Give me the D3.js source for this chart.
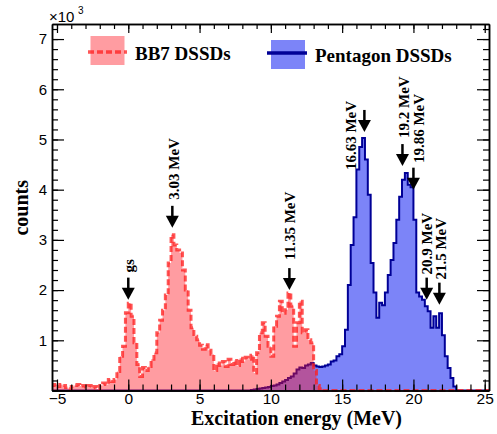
<!DOCTYPE html>
<html><head><meta charset="utf-8">
<script src="https://cdn.jsdelivr.net/npm/d3@7"></script>
<style>
body{margin:0;background:#fff;}
svg{display:block;}
.tick text{font-family:"Liberation Sans",Arial,sans-serif;}
</style></head>
<body><svg id="c" width="497" height="434"></svg>
<script>
// ---- data (counts in thousands, 0.2 MeV bins starting at -5.4 MeV) ----
const binStart = -5.4;
const binWidth = 0.2;
const bb7Counts = [
  0.10,0.12,0.08,0.12,0.10, 0.06,0.04,0.08,0.10,0.12, 0.09,0.10,0.07,0.10,0.05,
  0.08,0.03,0.10,0.15,0.12, 0.22,0.18,0.22,0.38,0.68, 0.88,1.55,1.74,1.48,0.95,
  0.52,0.28,0.46,0.40,0.48, 0.62,0.75,1.15,1.40,1.60, 1.90,2.54,3.10,2.90,2.80,
  2.74,2.40,2.00,1.60,1.25, 1.08,1.01,0.90,0.82,0.91, 0.80,0.72,0.40,0.55,0.50,
  0.58,0.48,0.62,0.52,0.60, 0.50,0.64,0.58,0.66,0.62, 0.70,0.35,0.75,1.15,1.35,
  1.08,0.88,0.68,1.28,1.48, 1.78,1.54,1.61,1.94,1.68, 0.88,1.35,1.78,1.15,1.21,
  1.01,0.95,0.40,0.10,0.04,
  0,0,0,0,0, 0,0,0,0,0, 0,0,0,0,0, 0,0,0,0,0, 0,0,0,0,0, 0,0,0,0,0,
  0,0,0,0,0, 0,0,0,0,0, 0,0,0,0,0, 0,0,0,0,0, 0,0,0,0,0, 0,0,0,0
];
const pentCounts = [
  0,0,0,0,0, 0,0,0,0,0, 0,0,0,0,0, 0,0,0,0,0, 0,0,0,0,0, 0,0,0,0,0, 0,0,0,0,0,
  0,0,0,0,0, 0,0,0,0,0, 0,0,0,0,0, 0,0,0,0,0, 0,0,0,0,0, 0,0,0,0,0, 0,0,0,0,0,
  0.01,0.02,0.03,0.04,0.05, 0.06,0.07,0.09,0.10,0.12, 0.15,0.18,0.21,0.25,0.28,
  0.34,0.42,0.46,0.45,0.50, 0.52,0.55,0.50,0.48,0.47, 0.48,0.50,0.52,0.58,0.60,
  0.68,0.72,0.88,1.21,2.10, 2.90,3.45,4.40,4.85,5.03, 4.60,3.90,2.54,1.95,1.45,
  1.75,1.70,1.95,2.30,2.60, 2.94,3.40,3.86,4.20,4.33, 4.10,4.05,3.40,1.95,1.87,
  1.81,1.68,1.58,1.25,1.48, 1.25,1.54,1.10,0.68,0.45, 0.25,0.08,0,0,0,
  0,0,0,0,0, 0,0,0,0
];
const seriesNames = ["BB7 DSSDs", "Pentagon DSSDs"];
const xTickLabels = [-5, 0, 5, 10, 15, 20, 25];
const yTickLabels = [1, 2, 3, 4, 5, 6, 7];
// peak markers: arrow energy (MeV), arrow tip (k counts), label, label anchor energy, label bottom (k counts)
const peakE     = [0, 3.09, 11.3, 16.56, 19.23, 20.0, 20.93, 21.82];
const peakTip   = [1.81, 3.24, 2.0, 5.15, 4.47, 4.0, 1.81, 1.71];
const peakLabel = ["gs", "3.03 MeV", "11.35 MeV", "16.63 MeV", "19.2 MeV", "19.86 MeV", "20.9 MeV", "21.5 MeV"];
const labelE    = [0, 3.2, 11.35, 15.6, 19.3, 20.4, 20.9, 21.9];
const labelBot  = [2.35, 3.8, 2.6, 4.39, 5.03, 4.53, 2.31, 2.21];

// ---- layout ----
const L = 52, R = 489, T = 24, B = 390.5;
const svg = d3.select("#c");
const x = d3.scaleLinear().domain([-5.35, 25.3]).range([L, R]);
const y = d3.scaleLinear().domain([0, 7.3]).range([B, T]);

const colors = {
  bb7Fill: "rgba(255,20,30,0.42)", bb7Line: "rgba(255,30,30,0.75)",
  pentFill: "rgb(124,132,248)", pentLine: "#000096"
};

svg.append("defs").append("clipPath").attr("id","clip")
  .append("rect").attr("x",L).attr("y",T).attr("width",R-L).attr("height",B-T+2);

function stepPts(arr){
  const pts=[];
  arr.forEach((v,i)=>{ const e0=binStart+i*binWidth; pts.push([e0,v],[e0+binWidth,v]); });
  return pts;
}
const area = d3.area().x(d=>x(d[0])).y0(y(0)).y1(d=>y(d[1]));
const line = d3.line().x(d=>x(d[0])).y(d=>y(d[1]));
const g = svg.append("g").attr("clip-path","url(#clip)");
const pp = stepPts(pentCounts), bp = stepPts(bb7Counts);
g.append("path").attr("d",area(pp)).attr("fill",colors.pentFill);
g.append("path").attr("d",line(pp)).attr("fill","none").attr("stroke",colors.pentLine).attr("stroke-width",2);
g.append("path").attr("d",area(bp)).attr("fill",colors.bb7Fill);
g.append("path").attr("d",line(bp)).attr("fill","none").attr("stroke",colors.bb7Line)
  .attr("stroke-width",3).attr("stroke-dasharray","6,3");

// ---- axes ----
const axStyle = sel => { sel.select(".domain").attr("stroke","#000").attr("stroke-width",1.5);
  sel.selectAll(".tick line").attr("stroke","#000").attr("stroke-width",1.2); };
const xMinor = d3.range(-5, 26, 1), yMinor = d3.range(0, 7.3, 0.2);
svg.append("g").attr("transform",`translate(0,${B})`)
  .call(d3.axisBottom(x).tickValues(xMinor).tickSize(-6).tickSizeOuter(0).tickFormat("")).call(axStyle);
svg.append("g").attr("transform",`translate(0,${B})`)
  .call(d3.axisBottom(x).tickValues(xTickLabels).tickSize(-11).tickSizeOuter(0).tickPadding(2)).call(axStyle)
  .selectAll("text").attr("font-size",15.5).attr("fill","#000");
svg.append("g").attr("transform",`translate(0,${T})`)
  .call(d3.axisTop(x).tickValues(xMinor).tickSize(-5).tickSizeOuter(0).tickFormat("")).call(axStyle);
svg.append("g").attr("transform",`translate(0,${T})`)
  .call(d3.axisTop(x).tickValues(xTickLabels).tickSize(-9).tickSizeOuter(0).tickFormat("")).call(axStyle);
svg.append("g").attr("transform",`translate(${L},0)`)
  .call(d3.axisLeft(y).tickValues(yMinor).tickSize(-6).tickSizeOuter(0).tickFormat("")).call(axStyle);
svg.append("g").attr("transform",`translate(${L},0)`)
  .call(d3.axisLeft(y).tickValues(yTickLabels).tickSize(-12).tickSizeOuter(0).tickPadding(5).tickFormat(d3.format("d"))).call(axStyle)
  .selectAll("text").attr("font-size",15).attr("fill","#000");
svg.append("g").attr("transform",`translate(${R},0)`)
  .call(d3.axisRight(y).tickValues(yMinor).tickSize(-6).tickSizeOuter(0).tickFormat("")).call(axStyle);
svg.append("g").attr("transform",`translate(${R},0)`)
  .call(d3.axisRight(y).tickValues(yTickLabels).tickSize(-12).tickSizeOuter(0).tickFormat("")).call(axStyle);

// exponent label
svg.append("text").attr("x",49).attr("y",22).attr("font-family","Liberation Sans, Arial, sans-serif")
  .attr("font-size",15).text("×10");
svg.append("text").attr("x",78).attr("y",14).attr("font-family","Liberation Sans, Arial, sans-serif")
  .attr("font-size",10).text("3");

// axis titles
const serif = "Liberation Serif, 'Times New Roman', serif";
svg.append("text").attr("x",402).attr("y",425).attr("text-anchor","end").attr("font-family",serif)
  .attr("font-weight","bold").attr("font-size",20).text("Excitation energy (MeV)");
svg.append("text").attr("transform","translate(28,180) rotate(-90)").attr("text-anchor","end")
  .attr("font-family",serif).attr("font-weight","bold").attr("font-size",20).text("counts");

// ---- peak arrows ----
peakE.forEach((e,i)=>{
  const ax = x(e), tip = y(peakTip[i]);
  svg.append("line").attr("x1",ax).attr("x2",ax).attr("y1",tip-22).attr("y2",tip-10)
    .attr("stroke","#000").attr("stroke-width",2.5);
  svg.append("path").attr("d",`M${ax-6.5},${tip-12}L${ax+6.5},${tip-12}L${ax},${tip}Z`).attr("fill","#000");
  svg.append("text").attr("transform",`translate(${x(labelE[i])},${y(labelBot[i])}) rotate(-90)`)
    .attr("dy","0.35em").attr("font-family",serif).attr("font-weight","bold").attr("font-size",15)
    .text(peakLabel[i]);
});

// ---- legend ----
const lg = svg.append("g");
lg.append("rect").attr("x",90.5).attr("y",36).attr("width",34).attr("height",29).attr("fill",colors.bb7Fill);
lg.append("line").attr("x1",88).attr("x2",127).attr("y1",52).attr("y2",52).attr("stroke",colors.bb7Line)
  .attr("stroke-width",3.5).attr("stroke-dasharray","6,3");
lg.append("text").attr("x",135).attr("y",60).attr("font-family",serif).attr("font-weight","bold")
  .attr("font-size",19).text(seriesNames[0]);
lg.append("rect").attr("x",271).attr("y",40).attr("width",34).attr("height",29).attr("fill",colors.pentFill);
lg.append("line").attr("x1",267).attr("x2",307).attr("y1",53).attr("y2",53).attr("stroke",colors.pentLine)
  .attr("stroke-width",3.5);
lg.append("text").attr("x",315).attr("y",62).attr("font-family",serif).attr("font-weight","bold")
  .attr("font-size",19).text(seriesNames[1]);
</script></body></html>
